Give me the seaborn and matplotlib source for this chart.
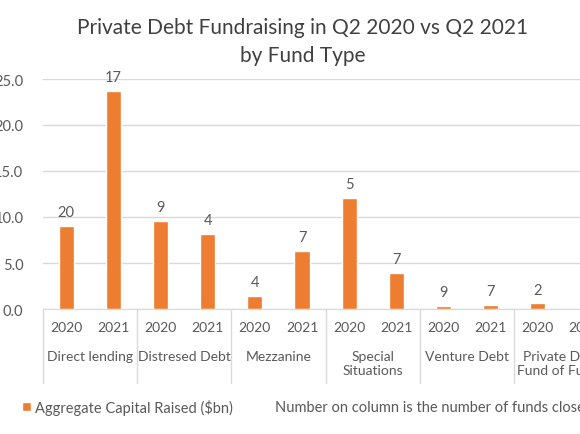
import seaborn as sns
import matplotlib.pyplot as plt
import pandas as pd

# values
fund_types = ["Direct lending", "Distresed Debt", "Mezzanine",
              "Special\nSituations", "Venture Debt", "Private Debt\nFund of Funds"]
years = ["2020", "2021"]
capital_2020 = [9.0, 9.6, 1.4, 12.1, 0.3, 0.6]
capital_2021 = [23.7, 8.2, 6.3, 3.9, 0.4, 0.0]
funds_2020 = ["20", "9", "4", "5", "9", "2"]
funds_2021 = ["17", "4", "7", "7", "7", ""]

rows = []
for i, ft in enumerate(fund_types):
    rows.append({"slot": f"{ft} 2020", "year": "2020", "capital": capital_2020[i], "funds": funds_2020[i]})
    rows.append({"slot": f"{ft} 2021", "year": "2021", "capital": capital_2021[i], "funds": funds_2021[i]})
df = pd.DataFrame(rows)

sns.set_style("white")
plt.rcParams["font.family"] = ["Lato", "DejaVu Sans"]

orange = "#ED7D31"
grid_c = "#D9D9D9"
text_c = "#595959"

fig = plt.figure(figsize=(5.8, 4.35), dpi=100)
# axes runs off the right edge, as in the cropped reference
ax = fig.add_axes([42.7 / 580, 125 / 435, 565.8 / 580, 230 / 435])

sns.barplot(data=df, x="slot", y="capital", color=orange, width=0.32, saturation=1,
            label="Aggregate Capital Raised ($bn)", ax=ax)
ax.bar_label(ax.containers[0], labels=df["funds"], padding=5, fontsize=10.5, color=text_c)

ax.set_ylim(0, 25)
ax.set_yticks([0, 5, 10, 15, 20, 25])
ax.set_yticklabels([f"{v:.1f}" for v in [0, 5, 10, 15, 20, 25]])
ax.set_xticks(range(len(df)))
ax.set_xticklabels(df["year"])
ax.tick_params(axis="y", length=0, pad=14, labelsize=10.5, labelcolor=text_c)
ax.tick_params(axis="x", length=0, pad=9, labelsize=10, labelcolor=text_c)
ax.set_xlabel("")
ax.set_ylabel("")
ax.yaxis.grid(True, color=grid_c, lw=1)
ax.set_axisbelow(True)
for s in ["top", "right", "left"]:
    ax.spines[s].set_visible(False)
ax.spines["bottom"].set_color(grid_c)

# group labels and separators under the axis
xt = ax.get_xaxis_transform()
for i, ft in enumerate(fund_types):
    ax.text(2 * i + 0.5, -0.18, ft, transform=xt, ha="center", va="top",
            fontsize=10, color=text_c, linespacing=1.15)
for b in range(len(fund_types) + 1):
    ax.plot([2 * b - 0.5, 2 * b - 0.5], [0, -0.322], transform=xt,
            color=grid_c, lw=1, clip_on=False)
ax.set_xlim(-0.5, len(df) - 0.5)

h, l = ax.get_legend_handles_labels()
if ax.legend_ is not None:
    ax.legend_.remove()

fig.text(303 / 580, 1 - 42 / 435, "Private Debt Fundraising in Q2 2020 vs Q2 2021\nby Fund Type",
         ha="center", va="center", fontsize=15, color="#404040", linespacing=1.45)

fig.legend(h, l, loc="center left", bbox_to_anchor=(9 / 580, 1 - 408 / 435), frameon=False,
           handlelength=0.6, handleheight=0.6, handletextpad=0.3, fontsize=10.5,
           labelcolor=text_c)
fig.text(275 / 580, 1 - 408 / 435, "Number on column is the number of funds closed",
         ha="left", va="center", fontsize=10.5, color=text_c)

fig.savefig("out.png", dpi=100)
